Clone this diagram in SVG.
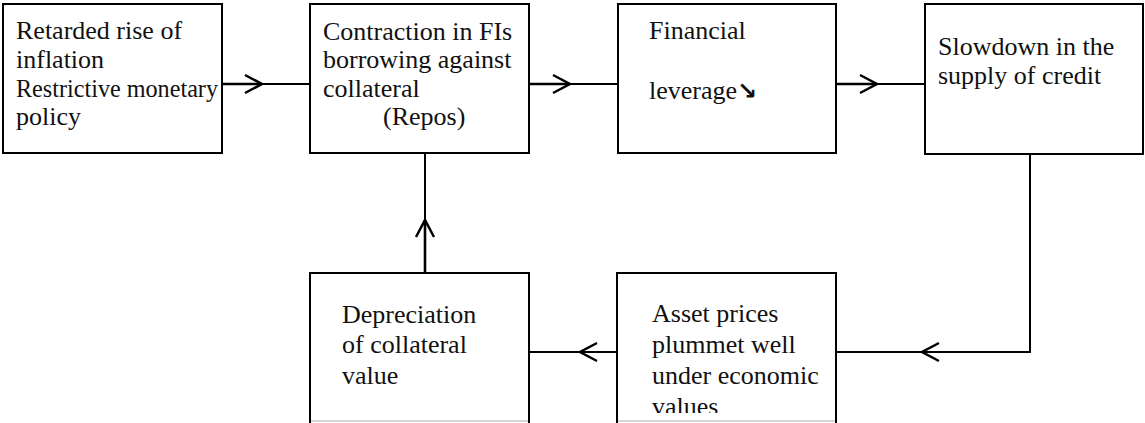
<svg xmlns="http://www.w3.org/2000/svg" width="1145" height="423" viewBox="0 0 1145 423">
<style>
.box{fill:#fff;stroke:#000;stroke-width:2}
.side{fill:none;stroke:#000;stroke-width:2}
.btm{fill:none;stroke:#c8c8c8;stroke-width:1.5}
.t{font-family:"Liberation Serif","Times New Roman",serif;font-size:26px;fill:#111}
.ln{fill:none;stroke:#000;stroke-width:2}
.lnt{fill:none;stroke:#000;stroke-width:2.6}
.sym{font-family:"DejaVu Sans",sans-serif;font-weight:bold;font-size:24px;fill:#111}
</style>
<defs>
<marker id="ah" viewBox="-20 -12 24 24" refX="0" refY="0" markerWidth="24" markerHeight="24" markerUnits="userSpaceOnUse" orient="auto" overflow="visible">
<path d="M-17,-9 L0,0 L-17,9" fill="none" stroke="#000" stroke-width="2.5"/>
</marker>
<clipPath id="clipBottom"><rect x="0" y="0" width="1145" height="413"/></clipPath>
</defs>
<rect width="1145" height="423" fill="#fff"/>
<g id="connectors">
<path class="lnt" d="M222,84 L262,84" marker-end="url(#ah)"/>
<path class="ln" d="M262,84 L310,84"/>
<path class="lnt" d="M529,84 L570,84" marker-end="url(#ah)"/>
<path class="ln" d="M570,84 L618,84"/>
<path class="lnt" d="M836,84 L877,84" marker-end="url(#ah)"/>
<path class="ln" d="M877,84 L925,84"/>
<path class="ln" d="M1030,154 L1030,352 L922,352" marker-end="url(#ah)"/>
<path class="ln" d="M922,352 L836,352"/>
<path class="ln" d="M617,352 L580,352" marker-end="url(#ah)"/>
<path class="ln" d="M580,352 L529,352"/>
<path class="lnt" d="M425,273 L425,220" marker-end="url(#ah)"/>
<path class="ln" d="M425,220 L425,153"/>
</g>
<g id="n1">
<rect class="box" x="3" y="4" width="219" height="149"/>
<text class="t" x="16" y="39">Retarded rise of</text>
<text class="t" x="16" y="68">inflation</text>
<text class="t" x="16" y="97" textLength="202" lengthAdjust="spacingAndGlyphs">Restrictive monetary</text>
<text class="t" x="16" y="125">policy</text>
</g>
<g id="n2">
<rect class="box" x="310" y="4" width="219" height="149"/>
<text class="t" x="323" y="40">Contraction in FIs</text>
<text class="t" x="323" y="68">borrowing against</text>
<text class="t" x="323" y="97">collateral</text>
<text class="t" x="383" y="125">(Repos)</text>
</g>
<g id="n3">
<rect class="box" x="618" y="4" width="218" height="149"/>
<text class="t" x="649" y="39">Financial</text>
<text class="t" x="649" y="99">leverage<tspan class="sym">↘</tspan></text>
</g>
<g id="n4">
<rect class="box" x="925" y="4" width="218" height="150"/>
<text class="t" x="938" y="55">Slowdown in the</text>
<text class="t" x="938" y="84">supply of credit</text>
</g>
<g id="n5">
<path class="side" d="M617,430 L617,273 L836,273 L836,430"/>
<path class="btm" d="M618,421 L835,421"/>
<g clip-path="url(#clipBottom)">
<text class="t" x="652" y="322">Asset prices</text>
<text class="t" x="652" y="353">plummet well</text>
<text class="t" x="652" y="384">under economic</text>
<text class="t" x="652" y="415">values</text>
</g>
</g>
<g id="n6">
<path class="side" d="M310,430 L310,273 L529,273 L529,430"/>
<path class="btm" d="M311,421 L528,421"/>
<text class="t" x="342" y="323">Depreciation</text>
<text class="t" x="342" y="353">of collateral</text>
<text class="t" x="342" y="384">value</text>
</g>
</svg>
